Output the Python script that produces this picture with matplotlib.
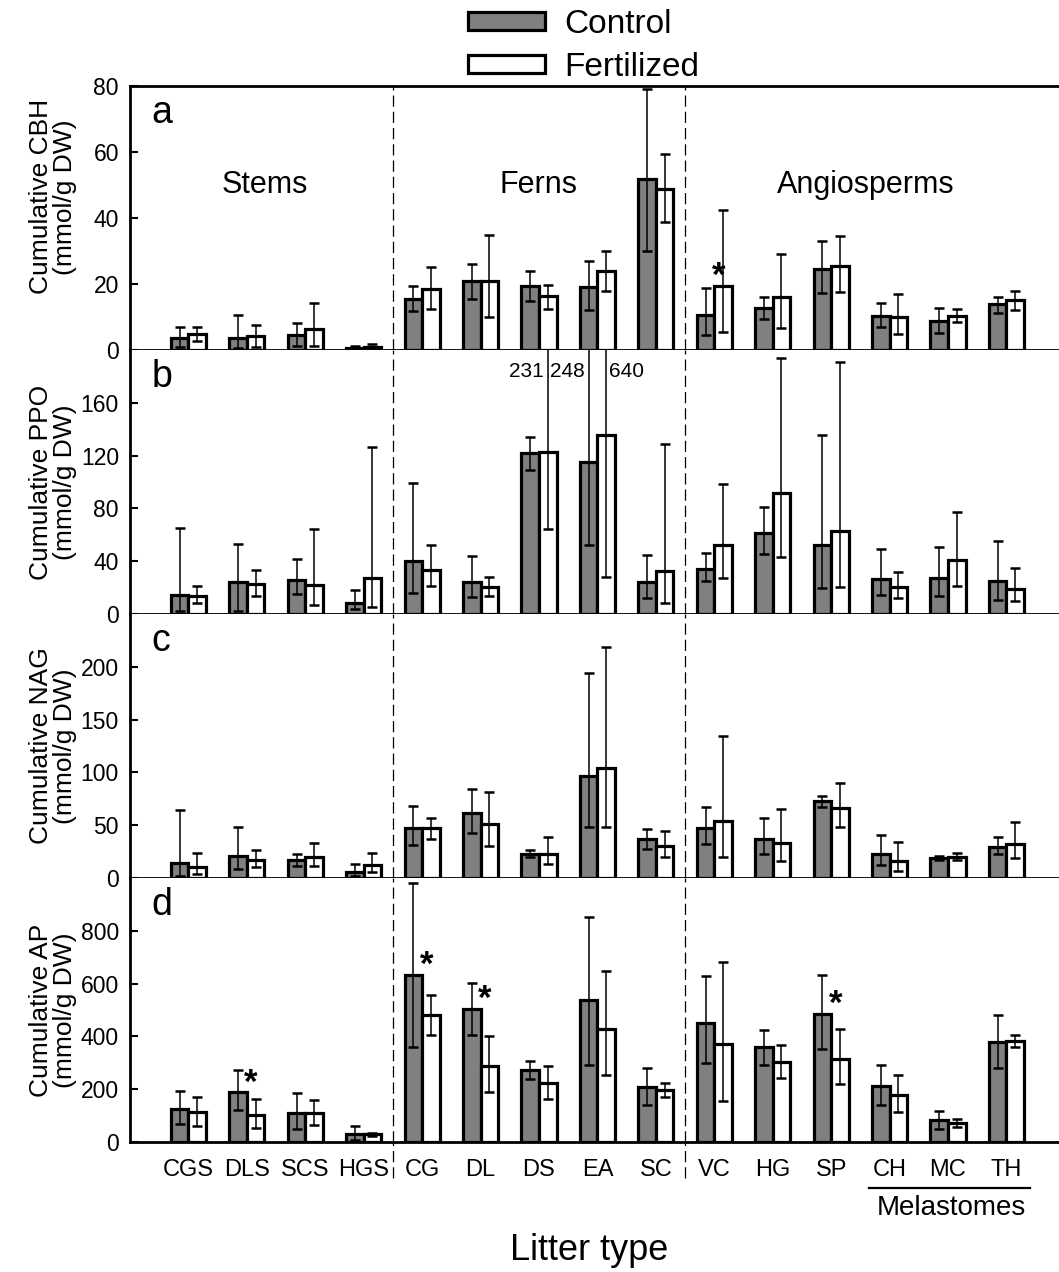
import matplotlib
matplotlib.use("Agg")
import matplotlib.pyplot as plt
import matplotlib.transforms as mtransforms
import numpy as np

plt.rcParams['font.family'] = ['Liberation Sans', 'DejaVu Sans']

# litter types
litter = ["CGS", "DLS", "SCS", "HGS", "CG", "DL", "DS", "EA", "SC",
          "VC", "HG", "SP", "CH", "MC", "TH"]

# a - CBH
cbh_ctrl = [3.5, 3.5, 4.6, 0.6, 15.5, 20.8, 19.3, 19.0, 51.7, 10.6, 12.7, 24.6, 10.4, 8.9, 13.8]
cbh_ctrl_lo = [0.8, 0.5, 1.3, 0.0, 11.7, 15.5, 15.0, 12.2, 29.9, 4.4, 9.3, 17.3, 6.9, 5.2, 11.2]
cbh_ctrl_hi = [6.9, 10.6, 8.2, 1.3, 19.3, 26.1, 23.8, 27.1, 79.0, 18.8, 16.0, 32.9, 14.2, 12.7, 16.2]
cbh_fert = [4.9, 4.1, 6.4, 1.0, 18.5, 20.8, 16.3, 23.9, 48.8, 19.5, 16.0, 25.5, 10.1, 10.4, 15.2]
cbh_fert_lo = [2.8, 1.0, 1.3, 0.3, 12.4, 9.9, 12.5, 18.0, 38.7, 5.4, 6.7, 17.5, 4.7, 8.4, 12.2]
cbh_fert_hi = [6.9, 7.6, 14.2, 1.8, 25.3, 34.9, 19.8, 29.9, 59.5, 42.3, 29.2, 34.4, 16.9, 12.4, 18.0]

# b - PPO
ppo_ctrl = [14.4, 24.6, 25.8, 8.6, 40.0, 24.6, 122.0, 115.2, 24.1, 34.4, 61.0, 52.2, 26.8, 27.3, 24.8]
ppo_ctrl_lo = [2.0, 2.5, 15.2, 3.8, 15.7, 12.7, 109.4, 52.4, 12.2, 24.8, 45.1, 19.7, 14.2, 13.9, 10.4]
ppo_ctrl_hi = [65.3, 53.2, 41.3, 18.2, 99.5, 43.8, 134.2, 248.0, 44.8, 46.3, 81.0, 135.4, 49.4, 50.6, 55.2]
ppo_fert = [13.9, 22.8, 22.0, 27.6, 33.4, 20.3, 122.5, 135.4, 32.4, 52.4, 91.9, 62.8, 20.5, 40.8, 19.2]
ppo_fert_lo = [8.4, 13.9, 6.8, 5.1, 21.0, 13.9, 64.1, 28.4, 8.1, 27.3, 43.0, 20.5, 12.2, 21.0, 10.1]
ppo_fert_hi = [21.5, 33.4, 64.6, 126.6, 51.9, 27.8, 231.0, 640.0, 128.9, 98.7, 194.2, 190.6, 31.6, 77.2, 34.9]
ppo_off_align = ["right", "right", "left"]

# c - NAG
nag_ctrl = [14.6, 20.6, 16.8, 5.4, 46.9, 61.2, 23.1, 97.0, 36.5, 47.2, 37.4, 72.6, 22.8, 19.0, 29.8]
nag_ctrl_lo = [1.6, 8.2, 11.1, 1.6, 31.7, 42.8, 20.0, 48.5, 27.6, 32.0, 23.1, 67.5, 12.0, 16.8, 22.5]
nag_ctrl_hi = [64.3, 48.5, 22.5, 13.0, 68.1, 84.3, 26.9, 194.0, 46.3, 66.9, 56.4, 77.7, 40.6, 20.9, 38.4]
nag_fert = [10.5, 17.4, 19.7, 12.7, 46.9, 51.0, 23.1, 104.0, 30.7, 53.6, 32.9, 66.6, 16.2, 20.3, 32.6]
nag_fert_lo = [4.1, 10.5, 11.1, 5.7, 37.4, 30.7, 13.0, 48.5, 20.0, 20.0, 16.2, 48.5, 6.7, 16.8, 19.3]
nag_fert_hi = [23.8, 26.9, 33.6, 23.8, 57.1, 81.5, 38.4, 218.7, 44.7, 134.7, 65.2, 89.7, 34.0, 24.1, 52.6]

# d - AP
ap_ctrl = [126, 189, 110, 31, 633, 504, 273, 538, 208, 451, 359, 485, 212, 82, 377]
ap_ctrl_lo = [67, 120, 50, 6, 359, 407, 239, 293, 141, 300, 293, 354, 142, 49, 282]
ap_ctrl_hi = [195, 271, 185, 60, 980, 603, 305, 853, 281, 629, 423, 631, 293, 117, 480]
ap_fert = [112, 103, 110, 31, 481, 287, 224, 428, 198, 373, 304, 316, 178, 73, 383]
ap_fert_lo = [59, 53, 63, 24, 406, 189, 164, 252, 170, 155, 241, 219, 115, 55, 358]
ap_fert_hi = [170, 164, 160, 35, 558, 402, 286, 649, 224, 681, 369, 429, 253, 87, 404]

# significant differences (panel, litter type)
sig_panel = ["a", "d", "d", "d", "d"]
sig_litter = ["VC", "DLS", "CG", "DL", "SP"]

group_names = ["Stems", "Ferns", "Angiosperms"]
group_x = [1.3, 6.0, 11.6]
group_breaks = [3.5, 8.5]
melastomes = ["CH", "MC", "TH"]

panels = [
    ("a", "Cumulative CBH\n(mmol/g DW)", 80, [0, 20, 40, 60, 80],
     cbh_ctrl, cbh_ctrl_lo, cbh_ctrl_hi, cbh_fert, cbh_fert_lo, cbh_fert_hi),
    ("b", "Cumulative PPO\n(mmol/g DW)", 200, [0, 40, 80, 120, 160],
     ppo_ctrl, ppo_ctrl_lo, ppo_ctrl_hi, ppo_fert, ppo_fert_lo, ppo_fert_hi),
    ("c", "Cumulative NAG\n(mmol/g DW)", 250, [0, 50, 100, 150, 200],
     nag_ctrl, nag_ctrl_lo, nag_ctrl_hi, nag_fert, nag_fert_lo, nag_fert_hi),
    ("d", "Cumulative AP\n(mmol/g DW)", 1000, [0, 200, 400, 600, 800],
     ap_ctrl, ap_ctrl_lo, ap_ctrl_hi, ap_fert, ap_fert_lo, ap_fert_hi),
]

W, H = 1059, 1272
fig = plt.figure(figsize=(W / 100, H / 100), dpi=100)

x = np.arange(len(litter))
bw = 0.3
left = 130 / W
top = 1 - 86 / H
ph = 264 / H
err_kw = dict(fmt="none", ecolor="black", elinewidth=1.1, capsize=3.5, capthick=1.8)

axes = []
for k, (letter, ylab, ymax, ticks, c, clo, chi, f, flo, fhi) in enumerate(panels):
    ax = fig.add_axes([left, top - (k + 1) * ph, 1 - left, ph])
    axes.append(ax)
    c, clo, chi = np.array(c, float), np.array(clo, float), np.array(chi, float)
    f, flo, fhi = np.array(f, float), np.array(flo, float), np.array(fhi, float)

    ax.bar(x - bw / 2, c, bw, color="#808080", edgecolor="black", linewidth=2.3,
           label="Control", zorder=2)
    ax.bar(x + bw / 2, f, bw, color="white", edgecolor="black", linewidth=2.3,
           label="Fertilized", zorder=2)
    ax.errorbar(x - bw / 2, c, yerr=[c - clo, chi - c], zorder=3, **err_kw)
    ax.errorbar(x + bw / 2, f, yerr=[f - flo, fhi - f], zorder=3, **err_kw)

    # off-scale error bar values
    offs = [(xi - bw / 2, v) for xi, v in zip(x, chi) if v > ymax] + \
           [(xi + bw / 2, v) for xi, v in zip(x, fhi) if v > ymax]
    offs.sort()
    for j, (xo, v) in enumerate(offs):
        ha = ppo_off_align[j] if letter == "b" else "right"
        dx = -0.07 if ha == "right" else 0.04
        ax.text(xo + dx, ymax * 0.92, f"{v:g}", ha=ha, va="center", fontsize=15)

    for xb in group_breaks:
        ax.axvline(xb, color="black", lw=0.9, ls=(0, (9, 4)), zorder=1)

    ax.set_xlim(-1.0, 14.9)
    ax.set_ylim(0, ymax)
    ax.set_yticks(ticks)
    ax.tick_params(axis="y", direction="in", length=6, width=1.5, labelsize=16.5, pad=8)
    ax.tick_params(axis="x", length=0, labelsize=17, pad=12)
    ax.set_xticks(x)
    if k < 3:
        ax.set_xticklabels([])
    else:
        ax.set_xticklabels(litter)
    ax.spines["right"].set_visible(False)
    ax.spines["top"].set_visible(k == 0)
    for s in ["left", "bottom", "top"]:
        ax.spines[s].set_linewidth(2.0)
    ax.set_ylabel(ylab, fontsize=19, linespacing=1.0)
    ax.yaxis.set_label_coords(-0.057, 0.58 if k == 0 else 0.5)
    ax.text(0.023, 0.86, letter, transform=ax.transAxes, fontsize=27,
            ha="left", va="baseline")

    for p, name in zip(sig_panel, sig_litter):
        if p == letter:
            i = litter.index(name)
            ax.text(i + 0.07, max(c[i], f[i]) + 0.035 * ymax, "*", fontsize=25,
                    fontweight="bold", ha="center", va="center")

axes[0].patch.set_alpha(0)
for nm, gx in zip(group_names, group_x):
    axes[0].text(gx, 50, nm, fontsize=22, ha="center", va="center")

# dashed lines continue into the tick label row of panel d
axd = axes[3]
trans = mtransforms.blended_transform_factory(axd.transData, axd.transAxes)
for xb in group_breaks:
    axd.plot([xb, xb], [-0.138, 0], transform=trans, color="black", lw=0.9,
             ls=(0, (9, 4)), clip_on=False)

mi = [litter.index(m) for m in melastomes]
axd.plot([mi[0] - 0.35, mi[-1] + 0.4], [-0.175, -0.175], transform=trans,
         color="black", lw=1.6, clip_on=False)
axd.text(np.mean(mi) + 0.05, -0.25, "Melastomes", transform=trans, fontsize=20,
         ha="center", va="center")

fig.text(589 / W, 1 - 1250 / H, "Litter type", fontsize=26, ha="center", va="center")

h, l = axes[0].get_legend_handles_labels()
fig.legend(h, l, loc="upper left", bbox_to_anchor=(468 / W, 1 - 9 / H), frameon=False,
           fontsize=24, handlelength=2.3, handleheight=0.42, handletextpad=0.6,
           labelspacing=0.36, borderpad=0, borderaxespad=0)

fig.savefig("out.png", dpi=100)
